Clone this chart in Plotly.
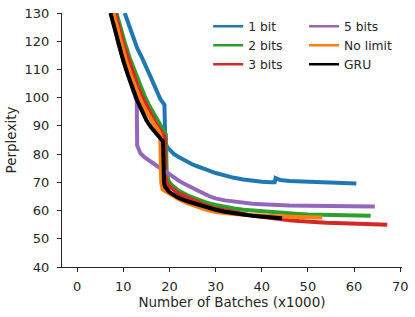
import plotly.graph_objects as go

# ---- data (x in thousands of batches, y = perplexity) ----
bit1_x = [10.3, 11, 12, 13, 14, 15, 16, 17, 18, 18.9, 19.1, 19.5, 20, 21, 22, 23, 24, 25, 26, 27, 28, 30, 32, 34, 36, 38, 40, 42, 42.8, 43.0, 44, 46, 48, 50, 52, 54, 56, 58, 60, 60.5]
bit1_y = [130, 126.5, 121.7, 117.5, 114.3, 111, 107, 103.3, 99.5, 97.5, 84, 82.5, 81.5, 80, 79, 78, 77, 76.3, 75.7, 75, 74.5, 73.3, 72.3, 71.6, 71, 70.5, 70.2, 70, 70, 71.5, 70.8, 70.5, 70.4, 70.3, 70.2, 70.1, 70, 69.9, 69.8, 69.6]

bit2_x = [8.5, 9.5, 10.5, 11.5, 12.5, 13.5, 14.5, 15.5, 16.5, 17.5, 18.5, 19.2, 19.4, 19.8, 20.5, 22, 24, 26, 28, 30, 32, 34, 36, 38, 40, 42, 44, 46, 48, 50, 52, 54, 56, 58, 60, 63.6]
bit2_y = [130, 124, 118.5, 113.5, 109, 105, 101, 97.5, 94.5, 91.5, 89, 87, 73, 70.5, 69, 67, 65.3, 64, 62.8, 62, 61.3, 60.7, 60.3, 60, 59.7, 59.4, 59.2, 59, 58.8, 58.6, 58.5, 58.4, 58.3, 58.3, 58.2, 58.2]

bit3_x = [8.2, 9, 10, 11, 12, 13, 14, 15, 16, 17, 18, 19, 19.1, 19.5, 20, 22, 24, 26, 28, 30, 32, 34, 36, 38, 40, 42, 44, 46, 48, 50, 52, 54, 56, 58, 60, 62, 64, 67.2]
bit3_y = [130, 125, 119, 114, 109, 104.5, 100.5, 97, 94, 91, 88.5, 86, 72, 69.5, 68.5, 66, 64.5, 63, 61.7, 60.7, 60, 59.3, 58.7, 58.2, 57.8, 57.3, 57, 56.6, 56.3, 56, 55.8, 55.7, 55.6, 55.5, 55.3, 55.2, 55.1, 55]

bit5_x = [7.4, 8, 9, 10, 11, 12, 12.9, 13.0, 13.7, 14.5, 15.9, 17, 18, 19, 20.2, 21, 22, 23.1, 24, 26, 28.9, 30, 32, 34, 36, 38, 40, 42, 44, 46, 50, 55, 60, 64.5]
bit5_y = [130, 125.2, 118.7, 113.2, 108.2, 103.2, 98.8, 83, 80.3, 79, 77.3, 76.2, 75, 74, 72.6, 71.6, 70.6, 69.6, 68.8, 67.2, 64.9, 64.3, 63.6, 63.1, 62.7, 62.4, 62.2, 62, 61.9, 61.8, 61.7, 61.6, 61.5, 61.4]

nolim_x = [7.8, 8.5, 9.5, 10.5, 11.5, 12.5, 13.5, 14.5, 15.5, 16.5, 17.5, 18.0, 18.2, 18.5, 19, 20, 22, 24, 26, 28, 30, 32, 34, 36, 38, 40, 42, 44, 46, 48, 50, 53.1]
nolim_y = [130, 125.5, 119, 113.5, 108.5, 104, 100, 96.5, 93.5, 91, 88.5, 87, 70, 67.5, 67, 66, 64, 62.5, 61.3, 60.3, 59.5, 59, 58.8, 58.5, 58.3, 58.2, 58, 57.9, 57.8, 57.7, 57.6, 57.5]

gru_x = [7.2, 8, 9, 10, 11, 12, 13, 14, 15, 16, 17, 18, 18.6, 18.8, 19, 20, 21, 22, 24, 26, 28, 30, 32, 34, 36, 38, 40, 42, 44.4]
gru_y = [130, 125, 118.5, 113, 108, 103, 99, 95.5, 92, 89.5, 87.5, 85.5, 84.5, 70, 68.5, 66.5, 65.3, 64.5, 63.2, 62.2, 61.2, 60.3, 59.6, 59, 58.6, 58.2, 57.9, 57.6, 57.3]

x_ticks = [0, 10, 20, 30, 40, 50, 60, 70]
y_ticks = [40, 50, 60, 70, 80, 90, 100, 110, 120, 130]

series = [
    ("1 bit", bit1_x, bit1_y, "#1f77b4", "legend"),
    ("2 bits", bit2_x, bit2_y, "#2ca02c", "legend"),
    ("3 bits", bit3_x, bit3_y, "#d62728", "legend"),
    ("5 bits", bit5_x, bit5_y, "#9467bd", "legend2"),
    ("No limit", nolim_x, nolim_y, "#ff7f0e", "legend2"),
    ("GRU", gru_x, gru_y, "#000000", "legend2"),
]

TXT = "#262626"
FONT = "DejaVu Sans"

fig = go.Figure()
for name, xs, ys, col, lg in series:
    fig.add_trace(go.Scatter(x=xs, y=ys, mode="lines", name=name, showlegend=False,
                             line=dict(color=col, width=4)))
# legend entries with thinner line samples
for name, xs, ys, col, lg in series:
    fig.add_trace(go.Scatter(x=[None], y=[None], mode="lines", name=name, legend=lg,
                             showlegend=True, line=dict(color=col, width=2.6),
                             hoverinfo="skip"))

fig.update_layout(
    width=415, height=317,
    margin=dict(l=62, r=13, t=13, b=50, autoexpand=False),
    paper_bgcolor="white", plot_bgcolor="white",
    font=dict(family=FONT, size=13, color=TXT),
    showlegend=True,
    legend=dict(x=0.43, y=1.005, xanchor="left", yanchor="top",
                bgcolor="rgba(0,0,0,0)", font=dict(size=12.3, color=TXT),
                tracegroupgap=0),
    legend2=dict(x=0.712, y=1.005, xanchor="left", yanchor="top",
                 bgcolor="rgba(0,0,0,0)", font=dict(size=12.3, color=TXT),
                 tracegroupgap=0),
)
fig.update_xaxes(range=[-3.3, 70.4], tickvals=x_ticks, ticks="outside", ticklen=4,
                 tickcolor=TXT, showline=True, linecolor=TXT, linewidth=1.2,
                 showgrid=False, zeroline=False, automargin=False,
                 tickfont=dict(size=13), ticklabelstandoff=3,
                 title=dict(text="Number of Batches (x1000)", font=dict(size=13.5), standoff=4))
fig.update_yaxes(range=[40, 130], tickvals=y_ticks, ticks="outside", ticklen=4,
                 tickcolor=TXT, showline=True, linecolor=TXT, linewidth=1.2,
                 showgrid=False, zeroline=False, automargin=False,
                 tickfont=dict(size=13), ticklabelstandoff=5,
                 title=dict(text="Perplexity", font=dict(size=13.5), standoff=4))

fig.write_html("out.html", config={"displayModeBar": False},
               post_script="document.body.style.margin='0';")
